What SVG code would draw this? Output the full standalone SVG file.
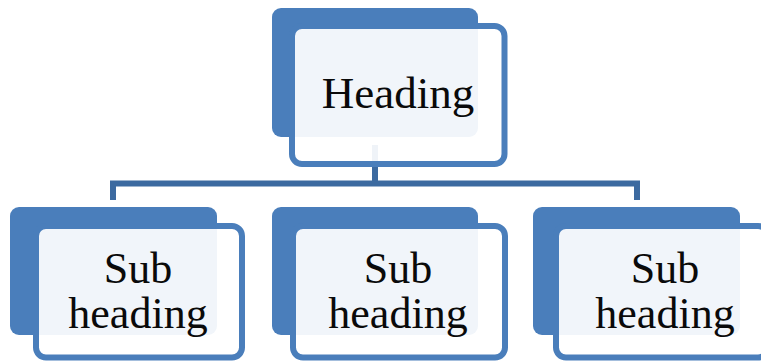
<svg xmlns="http://www.w3.org/2000/svg" width="761" height="364" viewBox="0 0 761 364">
<style>
.back{fill:#4a7ebb}
.front{fill:#ffffff;fill-opacity:0.92;stroke:#4a7ebb;stroke-width:6}
.conn{fill:none;stroke:#3c6aa0;stroke-width:6;stroke-linejoin:miter}
text{font-family:"Liberation Serif","Times New Roman",serif;fill:#0a0a0a;text-anchor:middle}
.h{font-size:45px}
.s{font-size:44px}
</style>
<rect width="761" height="364" fill="#ffffff"/>
<g id="connectors">
<path class="conn" d="M375 145 V183.5 M113 200 V183.5 H637 V200"/>
</g>
<g id="heading">
<rect class="back" x="272" y="8" width="206" height="129" rx="9"/>
<rect class="front" x="292" y="26" width="212.5" height="138" rx="10"/>
<text class="h" x="398" y="108">Heading</text>
</g>
<g id="sub1">
<rect class="back" x="10" y="207" width="207" height="128" rx="9"/>
<rect class="front" x="36" y="226" width="206" height="131.5" rx="10"/>
<text class="s" x="138" y="283">Sub</text>
<text class="s" x="138" y="328">heading</text>
</g>
<g id="sub2">
<rect class="back" x="272" y="207" width="206" height="128" rx="9"/>
<rect class="front" x="293" y="226" width="212" height="131.5" rx="10"/>
<text class="s" x="398" y="283">Sub</text>
<text class="s" x="398" y="328">heading</text>
</g>
<g id="sub3">
<rect class="back" x="533" y="207" width="207" height="128" rx="9"/>
<rect class="front" x="556" y="226" width="212" height="131.5" rx="10"/>
<text class="s" x="665" y="283">Sub</text>
<text class="s" x="665" y="328">heading</text>
</g>
</svg>
